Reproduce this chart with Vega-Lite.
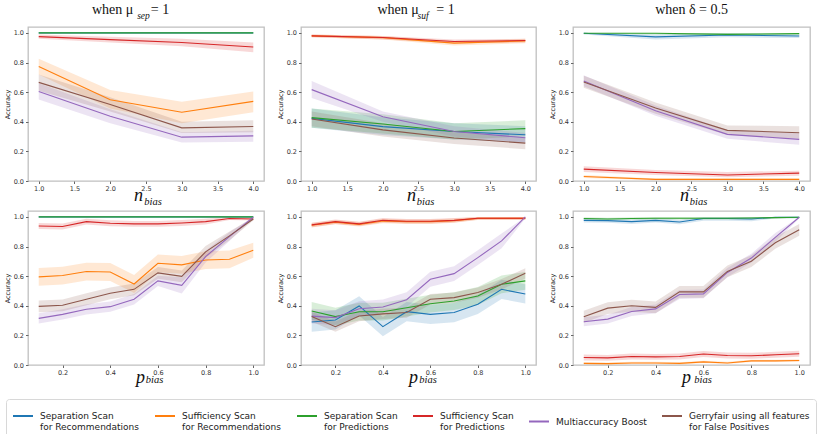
{
"$schema": "https://vega.github.io/schema/vega-lite/v6.json",
"padding": {"left": 3, "top": 2, "right": 3, "bottom": 2},
"background": "white",
"datasets": {"d": [
{"panel":"sep_n","method":"SR","x":1,"acc":1,"lo":0.995,"hi":1},
{"panel":"sep_n","method":"SR","x":2,"acc":1,"lo":0.995,"hi":1},
{"panel":"sep_n","method":"SR","x":3,"acc":1,"lo":0.995,"hi":1},
{"panel":"sep_n","method":"SR","x":4,"acc":1,"lo":0.995,"hi":1},
{"panel":"sep_n","method":"FR","x":1,"acc":0.774,"lo":0.72,"hi":0.825},
{"panel":"sep_n","method":"FR","x":2,"acc":0.549,"lo":0.49,"hi":0.615},
{"panel":"sep_n","method":"FR","x":3,"acc":0.464,"lo":0.39,"hi":0.535},
{"panel":"sep_n","method":"FR","x":4,"acc":0.538,"lo":0.465,"hi":0.605},
{"panel":"sep_n","method":"SP","x":1,"acc":1,"lo":1,"hi":1},
{"panel":"sep_n","method":"SP","x":2,"acc":1,"lo":1,"hi":1},
{"panel":"sep_n","method":"SP","x":3,"acc":1,"lo":1,"hi":1},
{"panel":"sep_n","method":"SP","x":4,"acc":1,"lo":1,"hi":1},
{"panel":"sep_n","method":"FP","x":1,"acc":0.975,"lo":0.96,"hi":0.99},
{"panel":"sep_n","method":"FP","x":2,"acc":0.955,"lo":0.935,"hi":0.975},
{"panel":"sep_n","method":"FP","x":3,"acc":0.935,"lo":0.91,"hi":0.96},
{"panel":"sep_n","method":"FP","x":4,"acc":0.905,"lo":0.87,"hi":0.935},
{"panel":"sep_n","method":"MA","x":1,"acc":0.605,"lo":0.55,"hi":0.66},
{"panel":"sep_n","method":"MA","x":2,"acc":0.437,"lo":0.39,"hi":0.485},
{"panel":"sep_n","method":"MA","x":3,"acc":0.296,"lo":0.26,"hi":0.33},
{"panel":"sep_n","method":"MA","x":4,"acc":0.305,"lo":0.265,"hi":0.34},
{"panel":"sep_n","method":"GF","x":1,"acc":0.666,"lo":0.61,"hi":0.72},
{"panel":"sep_n","method":"GF","x":2,"acc":0.516,"lo":0.47,"hi":0.565},
{"panel":"sep_n","method":"GF","x":3,"acc":0.359,"lo":0.325,"hi":0.4},
{"panel":"sep_n","method":"GF","x":4,"acc":0.368,"lo":0.33,"hi":0.41},
{"panel":"suf_n","method":"SR","x":1,"acc":0.423,"lo":0.36,"hi":0.49},
{"panel":"suf_n","method":"SR","x":2,"acc":0.367,"lo":0.31,"hi":0.43},
{"panel":"suf_n","method":"SR","x":3,"acc":0.334,"lo":0.28,"hi":0.39},
{"panel":"suf_n","method":"SR","x":4,"acc":0.312,"lo":0.26,"hi":0.37},
{"panel":"suf_n","method":"FR","x":1,"acc":0.98,"lo":0.97,"hi":0.99},
{"panel":"suf_n","method":"FR","x":2,"acc":0.968,"lo":0.955,"hi":0.98},
{"panel":"suf_n","method":"FR","x":3,"acc":0.931,"lo":0.915,"hi":0.945},
{"panel":"suf_n","method":"FR","x":4,"acc":0.946,"lo":0.93,"hi":0.96},
{"panel":"suf_n","method":"SP","x":1,"acc":0.428,"lo":0.36,"hi":0.49},
{"panel":"suf_n","method":"SP","x":2,"acc":0.385,"lo":0.32,"hi":0.45},
{"panel":"suf_n","method":"SP","x":3,"acc":0.334,"lo":0.28,"hi":0.39},
{"panel":"suf_n","method":"SP","x":4,"acc":0.354,"lo":0.3,"hi":0.41},
{"panel":"suf_n","method":"FP","x":1,"acc":0.98,"lo":0.97,"hi":0.99},
{"panel":"suf_n","method":"FP","x":2,"acc":0.969,"lo":0.955,"hi":0.98},
{"panel":"suf_n","method":"FP","x":3,"acc":0.942,"lo":0.93,"hi":0.955},
{"panel":"suf_n","method":"FP","x":4,"acc":0.949,"lo":0.935,"hi":0.96},
{"panel":"suf_n","method":"MA","x":1,"acc":0.617,"lo":0.56,"hi":0.675},
{"panel":"suf_n","method":"MA","x":2,"acc":0.434,"lo":0.4,"hi":0.47},
{"panel":"suf_n","method":"MA","x":3,"acc":0.334,"lo":0.3,"hi":0.37},
{"panel":"suf_n","method":"MA","x":4,"acc":0.292,"lo":0.26,"hi":0.325},
{"panel":"suf_n","method":"GF","x":1,"acc":0.419,"lo":0.37,"hi":0.47},
{"panel":"suf_n","method":"GF","x":2,"acc":0.345,"lo":0.3,"hi":0.39},
{"panel":"suf_n","method":"GF","x":3,"acc":0.29,"lo":0.25,"hi":0.33},
{"panel":"suf_n","method":"GF","x":4,"acc":0.256,"lo":0.215,"hi":0.295},
{"panel":"del_n","method":"SR","x":1,"acc":0.998,"lo":0.99,"hi":1},
{"panel":"del_n","method":"SR","x":2,"acc":0.973,"lo":0.955,"hi":0.99},
{"panel":"del_n","method":"SR","x":3,"acc":0.986,"lo":0.97,"hi":1},
{"panel":"del_n","method":"SR","x":4,"acc":0.979,"lo":0.965,"hi":0.99},
{"panel":"del_n","method":"FR","x":1,"acc":0.03,"lo":0.02,"hi":0.04},
{"panel":"del_n","method":"FR","x":2,"acc":0.011,"lo":0.005,"hi":0.017},
{"panel":"del_n","method":"FR","x":3,"acc":0.011,"lo":0.005,"hi":0.017},
{"panel":"del_n","method":"FR","x":4,"acc":0.011,"lo":0.005,"hi":0.017},
{"panel":"del_n","method":"SP","x":1,"acc":0.998,"lo":0.995,"hi":1},
{"panel":"del_n","method":"SP","x":2,"acc":0.998,"lo":0.99,"hi":1},
{"panel":"del_n","method":"SP","x":3,"acc":0.99,"lo":0.98,"hi":1},
{"panel":"del_n","method":"SP","x":4,"acc":0.995,"lo":0.99,"hi":1},
{"panel":"del_n","method":"FP","x":1,"acc":0.08,"lo":0.06,"hi":0.1},
{"panel":"del_n","method":"FP","x":2,"acc":0.057,"lo":0.04,"hi":0.075},
{"panel":"del_n","method":"FP","x":3,"acc":0.041,"lo":0.025,"hi":0.06},
{"panel":"del_n","method":"FP","x":4,"acc":0.053,"lo":0.035,"hi":0.07},
{"panel":"del_n","method":"MA","x":1,"acc":0.676,"lo":0.64,"hi":0.715},
{"panel":"del_n","method":"MA","x":2,"acc":0.475,"lo":0.44,"hi":0.51},
{"panel":"del_n","method":"MA","x":3,"acc":0.315,"lo":0.285,"hi":0.345},
{"panel":"del_n","method":"MA","x":4,"acc":0.281,"lo":0.245,"hi":0.32},
{"panel":"del_n","method":"GF","x":1,"acc":0.669,"lo":0.63,"hi":0.71},
{"panel":"del_n","method":"GF","x":2,"acc":0.493,"lo":0.455,"hi":0.53},
{"panel":"del_n","method":"GF","x":3,"acc":0.342,"lo":0.31,"hi":0.375},
{"panel":"del_n","method":"GF","x":4,"acc":0.326,"lo":0.285,"hi":0.37},
{"panel":"sep_p","method":"SR","x":0.1,"acc":1,"lo":0.995,"hi":1},
{"panel":"sep_p","method":"SR","x":0.2,"acc":1,"lo":0.995,"hi":1},
{"panel":"sep_p","method":"SR","x":0.3,"acc":1,"lo":0.995,"hi":1},
{"panel":"sep_p","method":"SR","x":0.4,"acc":1,"lo":0.995,"hi":1},
{"panel":"sep_p","method":"SR","x":0.5,"acc":1,"lo":0.995,"hi":1},
{"panel":"sep_p","method":"SR","x":0.6,"acc":1,"lo":0.995,"hi":1},
{"panel":"sep_p","method":"SR","x":0.7,"acc":1,"lo":0.995,"hi":1},
{"panel":"sep_p","method":"SR","x":0.8,"acc":1,"lo":0.995,"hi":1},
{"panel":"sep_p","method":"SR","x":0.9,"acc":1,"lo":0.995,"hi":1},
{"panel":"sep_p","method":"SR","x":1.0,"acc":1,"lo":0.995,"hi":1},
{"panel":"sep_p","method":"FR","x":0.1,"acc":0.595,"lo":0.535,"hi":0.655},
{"panel":"sep_p","method":"FR","x":0.2,"acc":0.604,"lo":0.544,"hi":0.664},
{"panel":"sep_p","method":"FR","x":0.3,"acc":0.631,"lo":0.571,"hi":0.691},
{"panel":"sep_p","method":"FR","x":0.4,"acc":0.628,"lo":0.568,"hi":0.688},
{"panel":"sep_p","method":"FR","x":0.5,"acc":0.547,"lo":0.487,"hi":0.607},
{"panel":"sep_p","method":"FR","x":0.6,"acc":0.687,"lo":0.627,"hi":0.747},
{"panel":"sep_p","method":"FR","x":0.7,"acc":0.676,"lo":0.616,"hi":0.736},
{"panel":"sep_p","method":"FR","x":0.8,"acc":0.709,"lo":0.649,"hi":0.769},
{"panel":"sep_p","method":"FR","x":0.9,"acc":0.714,"lo":0.654,"hi":0.774},
{"panel":"sep_p","method":"FR","x":1.0,"acc":0.775,"lo":0.725,"hi":0.825},
{"panel":"sep_p","method":"SP","x":0.1,"acc":1,"lo":1,"hi":1},
{"panel":"sep_p","method":"SP","x":0.2,"acc":1,"lo":1,"hi":1},
{"panel":"sep_p","method":"SP","x":0.3,"acc":1,"lo":1,"hi":1},
{"panel":"sep_p","method":"SP","x":0.4,"acc":1,"lo":1,"hi":1},
{"panel":"sep_p","method":"SP","x":0.5,"acc":1,"lo":1,"hi":1},
{"panel":"sep_p","method":"SP","x":0.6,"acc":1,"lo":1,"hi":1},
{"panel":"sep_p","method":"SP","x":0.7,"acc":1,"lo":1,"hi":1},
{"panel":"sep_p","method":"SP","x":0.8,"acc":1,"lo":1,"hi":1},
{"panel":"sep_p","method":"SP","x":0.9,"acc":1,"lo":1,"hi":1},
{"panel":"sep_p","method":"SP","x":1.0,"acc":1,"lo":1,"hi":1},
{"panel":"sep_p","method":"FP","x":0.1,"acc":0.939,"lo":0.919,"hi":0.959},
{"panel":"sep_p","method":"FP","x":0.2,"acc":0.935,"lo":0.915,"hi":0.955},
{"panel":"sep_p","method":"FP","x":0.3,"acc":0.968,"lo":0.948,"hi":0.988},
{"panel":"sep_p","method":"FP","x":0.4,"acc":0.957,"lo":0.937,"hi":0.977},
{"panel":"sep_p","method":"FP","x":0.5,"acc":0.953,"lo":0.933,"hi":0.973},
{"panel":"sep_p","method":"FP","x":0.6,"acc":0.953,"lo":0.933,"hi":0.973},
{"panel":"sep_p","method":"FP","x":0.7,"acc":0.959,"lo":0.939,"hi":0.979},
{"panel":"sep_p","method":"FP","x":0.8,"acc":0.968,"lo":0.948,"hi":0.988},
{"panel":"sep_p","method":"FP","x":0.9,"acc":0.989,"lo":0.979,"hi":0.999},
{"panel":"sep_p","method":"FP","x":1.0,"acc":0.986,"lo":0.976,"hi":0.996},
{"panel":"sep_p","method":"MA","x":0.1,"acc":0.315,"lo":0.28,"hi":0.35},
{"panel":"sep_p","method":"MA","x":0.2,"acc":0.342,"lo":0.307,"hi":0.377},
{"panel":"sep_p","method":"MA","x":0.3,"acc":0.376,"lo":0.341,"hi":0.411},
{"panel":"sep_p","method":"MA","x":0.4,"acc":0.394,"lo":0.359,"hi":0.429},
{"panel":"sep_p","method":"MA","x":0.5,"acc":0.444,"lo":0.409,"hi":0.479},
{"panel":"sep_p","method":"MA","x":0.6,"acc":0.568,"lo":0.533,"hi":0.603},
{"panel":"sep_p","method":"MA","x":0.7,"acc":0.538,"lo":0.483,"hi":0.593},
{"panel":"sep_p","method":"MA","x":0.8,"acc":0.732,"lo":0.692,"hi":0.772},
{"panel":"sep_p","method":"MA","x":0.9,"acc":0.867,"lo":0.837,"hi":0.897},
{"panel":"sep_p","method":"MA","x":1.0,"acc":0.998,"lo":0.99,"hi":1},
{"panel":"sep_p","method":"GF","x":0.1,"acc":0.396,"lo":0.356,"hi":0.436},
{"panel":"sep_p","method":"GF","x":0.2,"acc":0.403,"lo":0.363,"hi":0.443},
{"panel":"sep_p","method":"GF","x":0.3,"acc":0.444,"lo":0.404,"hi":0.484},
{"panel":"sep_p","method":"GF","x":0.4,"acc":0.484,"lo":0.444,"hi":0.524},
{"panel":"sep_p","method":"GF","x":0.5,"acc":0.511,"lo":0.471,"hi":0.551},
{"panel":"sep_p","method":"GF","x":0.6,"acc":0.622,"lo":0.582,"hi":0.662},
{"panel":"sep_p","method":"GF","x":0.7,"acc":0.599,"lo":0.559,"hi":0.639},
{"panel":"sep_p","method":"GF","x":0.8,"acc":0.764,"lo":0.724,"hi":0.804},
{"panel":"sep_p","method":"GF","x":0.9,"acc":0.872,"lo":0.842,"hi":0.902},
{"panel":"sep_p","method":"GF","x":1.0,"acc":0.986,"lo":0.976,"hi":0.996},
{"panel":"suf_p","method":"SR","x":0.1,"acc":0.29,"lo":0.225,"hi":0.355},
{"panel":"suf_p","method":"SR","x":0.2,"acc":0.304,"lo":0.239,"hi":0.369},
{"panel":"suf_p","method":"SR","x":0.3,"acc":0.399,"lo":0.334,"hi":0.464},
{"panel":"suf_p","method":"SR","x":0.4,"acc":0.259,"lo":0.194,"hi":0.324},
{"panel":"suf_p","method":"SR","x":0.5,"acc":0.36,"lo":0.295,"hi":0.425},
{"panel":"suf_p","method":"SR","x":0.6,"acc":0.342,"lo":0.277,"hi":0.407},
{"panel":"suf_p","method":"SR","x":0.7,"acc":0.354,"lo":0.289,"hi":0.419},
{"panel":"suf_p","method":"SR","x":0.8,"acc":0.41,"lo":0.345,"hi":0.475},
{"panel":"suf_p","method":"SR","x":0.9,"acc":0.511,"lo":0.446,"hi":0.576},
{"panel":"suf_p","method":"SR","x":1.0,"acc":0.48,"lo":0.415,"hi":0.545},
{"panel":"suf_p","method":"FR","x":0.1,"acc":0.944,"lo":0.929,"hi":0.959},
{"panel":"suf_p","method":"FR","x":0.2,"acc":0.965,"lo":0.95,"hi":0.98},
{"panel":"suf_p","method":"FR","x":0.3,"acc":0.95,"lo":0.935,"hi":0.965},
{"panel":"suf_p","method":"FR","x":0.4,"acc":0.972,"lo":0.957,"hi":0.987},
{"panel":"suf_p","method":"FR","x":0.5,"acc":0.968,"lo":0.953,"hi":0.983},
{"panel":"suf_p","method":"FR","x":0.6,"acc":0.968,"lo":0.953,"hi":0.983},
{"panel":"suf_p","method":"FR","x":0.7,"acc":0.975,"lo":0.96,"hi":0.99},
{"panel":"suf_p","method":"FR","x":0.8,"acc":0.99,"lo":0.98,"hi":1},
{"panel":"suf_p","method":"FR","x":0.9,"acc":0.99,"lo":0.98,"hi":1},
{"panel":"suf_p","method":"FR","x":1.0,"acc":0.99,"lo":0.98,"hi":1},
{"panel":"suf_p","method":"SP","x":0.1,"acc":0.365,"lo":0.305,"hi":0.425},
{"panel":"suf_p","method":"SP","x":0.2,"acc":0.327,"lo":0.267,"hi":0.387},
{"panel":"suf_p","method":"SP","x":0.3,"acc":0.36,"lo":0.3,"hi":0.42},
{"panel":"suf_p","method":"SP","x":0.4,"acc":0.36,"lo":0.3,"hi":0.42},
{"panel":"suf_p","method":"SP","x":0.5,"acc":0.387,"lo":0.327,"hi":0.447},
{"panel":"suf_p","method":"SP","x":0.6,"acc":0.414,"lo":0.354,"hi":0.474},
{"panel":"suf_p","method":"SP","x":0.7,"acc":0.432,"lo":0.372,"hi":0.492},
{"panel":"suf_p","method":"SP","x":0.8,"acc":0.466,"lo":0.406,"hi":0.526},
{"panel":"suf_p","method":"SP","x":0.9,"acc":0.545,"lo":0.485,"hi":0.605},
{"panel":"suf_p","method":"SP","x":1.0,"acc":0.568,"lo":0.508,"hi":0.628},
{"panel":"suf_p","method":"FP","x":0.1,"acc":0.946,"lo":0.931,"hi":0.961},
{"panel":"suf_p","method":"FP","x":0.2,"acc":0.968,"lo":0.953,"hi":0.983},
{"panel":"suf_p","method":"FP","x":0.3,"acc":0.953,"lo":0.938,"hi":0.968},
{"panel":"suf_p","method":"FP","x":0.4,"acc":0.977,"lo":0.962,"hi":0.992},
{"panel":"suf_p","method":"FP","x":0.5,"acc":0.971,"lo":0.956,"hi":0.986},
{"panel":"suf_p","method":"FP","x":0.6,"acc":0.971,"lo":0.956,"hi":0.986},
{"panel":"suf_p","method":"FP","x":0.7,"acc":0.977,"lo":0.962,"hi":0.992},
{"panel":"suf_p","method":"FP","x":0.8,"acc":0.991,"lo":0.981,"hi":1},
{"panel":"suf_p","method":"FP","x":0.9,"acc":0.991,"lo":0.981,"hi":1},
{"panel":"suf_p","method":"FP","x":1.0,"acc":0.991,"lo":0.981,"hi":1},
{"panel":"suf_p","method":"MA","x":0.1,"acc":0.33,"lo":0.28,"hi":0.38},
{"panel":"suf_p","method":"MA","x":0.2,"acc":0.32,"lo":0.27,"hi":0.37},
{"panel":"suf_p","method":"MA","x":0.3,"acc":0.38,"lo":0.33,"hi":0.43},
{"panel":"suf_p","method":"MA","x":0.4,"acc":0.392,"lo":0.342,"hi":0.442},
{"panel":"suf_p","method":"MA","x":0.5,"acc":0.441,"lo":0.391,"hi":0.491},
{"panel":"suf_p","method":"MA","x":0.6,"acc":0.579,"lo":0.529,"hi":0.629},
{"panel":"suf_p","method":"MA","x":0.7,"acc":0.617,"lo":0.567,"hi":0.667},
{"panel":"suf_p","method":"MA","x":0.8,"acc":0.725,"lo":0.675,"hi":0.775},
{"panel":"suf_p","method":"MA","x":0.9,"acc":0.838,"lo":0.788,"hi":0.888},
{"panel":"suf_p","method":"MA","x":1.0,"acc":1,"lo":0.99,"hi":1},
{"panel":"suf_p","method":"GF","x":0.1,"acc":0.327,"lo":0.292,"hi":0.362},
{"panel":"suf_p","method":"GF","x":0.2,"acc":0.259,"lo":0.224,"hi":0.294},
{"panel":"suf_p","method":"GF","x":0.3,"acc":0.331,"lo":0.296,"hi":0.366},
{"panel":"suf_p","method":"GF","x":0.4,"acc":0.345,"lo":0.31,"hi":0.38},
{"panel":"suf_p","method":"GF","x":0.5,"acc":0.354,"lo":0.319,"hi":0.389},
{"panel":"suf_p","method":"GF","x":0.6,"acc":0.444,"lo":0.409,"hi":0.479},
{"panel":"suf_p","method":"GF","x":0.7,"acc":0.455,"lo":0.42,"hi":0.49},
{"panel":"suf_p","method":"GF","x":0.8,"acc":0.489,"lo":0.454,"hi":0.524},
{"panel":"suf_p","method":"GF","x":0.9,"acc":0.545,"lo":0.51,"hi":0.58},
{"panel":"suf_p","method":"GF","x":1.0,"acc":0.619,"lo":0.584,"hi":0.654},
{"panel":"del_p","method":"SR","x":0.1,"acc":0.977,"lo":0.962,"hi":0.992},
{"panel":"del_p","method":"SR","x":0.2,"acc":0.975,"lo":0.96,"hi":0.99},
{"panel":"del_p","method":"SR","x":0.3,"acc":0.968,"lo":0.953,"hi":0.983},
{"panel":"del_p","method":"SR","x":0.4,"acc":0.977,"lo":0.962,"hi":0.992},
{"panel":"del_p","method":"SR","x":0.5,"acc":0.966,"lo":0.951,"hi":0.981},
{"panel":"del_p","method":"SR","x":0.6,"acc":0.989,"lo":0.974,"hi":1},
{"panel":"del_p","method":"SR","x":0.7,"acc":0.989,"lo":0.974,"hi":1},
{"panel":"del_p","method":"SR","x":0.8,"acc":0.986,"lo":0.971,"hi":1},
{"panel":"del_p","method":"SR","x":0.9,"acc":0.998,"lo":0.99,"hi":1},
{"panel":"del_p","method":"SR","x":1.0,"acc":0.998,"lo":0.99,"hi":1},
{"panel":"del_p","method":"FR","x":0.1,"acc":0.011,"lo":0.003,"hi":0.019},
{"panel":"del_p","method":"FR","x":0.2,"acc":0.009,"lo":0.001,"hi":0.017},
{"panel":"del_p","method":"FR","x":0.3,"acc":0.014,"lo":0.006,"hi":0.022},
{"panel":"del_p","method":"FR","x":0.4,"acc":0.014,"lo":0.006,"hi":0.022},
{"panel":"del_p","method":"FR","x":0.5,"acc":0.011,"lo":0.003,"hi":0.019},
{"panel":"del_p","method":"FR","x":0.6,"acc":0.021,"lo":0.013,"hi":0.029},
{"panel":"del_p","method":"FR","x":0.7,"acc":0.014,"lo":0.006,"hi":0.022},
{"panel":"del_p","method":"FR","x":0.8,"acc":0.028,"lo":0.02,"hi":0.036},
{"panel":"del_p","method":"FR","x":0.9,"acc":0.028,"lo":0.02,"hi":0.036},
{"panel":"del_p","method":"FR","x":1.0,"acc":0.03,"lo":0.022,"hi":0.038},
{"panel":"del_p","method":"SP","x":0.1,"acc":0.989,"lo":0.981,"hi":0.997},
{"panel":"del_p","method":"SP","x":0.2,"acc":0.986,"lo":0.978,"hi":0.994},
{"panel":"del_p","method":"SP","x":0.3,"acc":0.989,"lo":0.981,"hi":0.997},
{"panel":"del_p","method":"SP","x":0.4,"acc":0.991,"lo":0.983,"hi":0.999},
{"panel":"del_p","method":"SP","x":0.5,"acc":0.991,"lo":0.983,"hi":0.999},
{"panel":"del_p","method":"SP","x":0.6,"acc":0.991,"lo":0.983,"hi":0.999},
{"panel":"del_p","method":"SP","x":0.7,"acc":0.991,"lo":0.983,"hi":0.999},
{"panel":"del_p","method":"SP","x":0.8,"acc":0.993,"lo":0.985,"hi":1},
{"panel":"del_p","method":"SP","x":0.9,"acc":0.995,"lo":0.99,"hi":1},
{"panel":"del_p","method":"SP","x":1.0,"acc":0.998,"lo":0.995,"hi":1},
{"panel":"del_p","method":"FP","x":0.1,"acc":0.051,"lo":0.031,"hi":0.071},
{"panel":"del_p","method":"FP","x":0.2,"acc":0.048,"lo":0.028,"hi":0.068},
{"panel":"del_p","method":"FP","x":0.3,"acc":0.057,"lo":0.037,"hi":0.077},
{"panel":"del_p","method":"FP","x":0.4,"acc":0.055,"lo":0.035,"hi":0.075},
{"panel":"del_p","method":"FP","x":0.5,"acc":0.057,"lo":0.037,"hi":0.077},
{"panel":"del_p","method":"FP","x":0.6,"acc":0.074,"lo":0.054,"hi":0.094},
{"panel":"del_p","method":"FP","x":0.7,"acc":0.064,"lo":0.044,"hi":0.084},
{"panel":"del_p","method":"FP","x":0.8,"acc":0.062,"lo":0.042,"hi":0.082},
{"panel":"del_p","method":"FP","x":0.9,"acc":0.069,"lo":0.049,"hi":0.089},
{"panel":"del_p","method":"FP","x":1.0,"acc":0.076,"lo":0.056,"hi":0.096},
{"panel":"del_p","method":"MA","x":0.1,"acc":0.292,"lo":0.262,"hi":0.322},
{"panel":"del_p","method":"MA","x":0.2,"acc":0.31,"lo":0.28,"hi":0.34},
{"panel":"del_p","method":"MA","x":0.3,"acc":0.361,"lo":0.331,"hi":0.391},
{"panel":"del_p","method":"MA","x":0.4,"acc":0.379,"lo":0.349,"hi":0.409},
{"panel":"del_p","method":"MA","x":0.5,"acc":0.476,"lo":0.446,"hi":0.506},
{"panel":"del_p","method":"MA","x":0.6,"acc":0.48,"lo":0.45,"hi":0.51},
{"panel":"del_p","method":"MA","x":0.7,"acc":0.625,"lo":0.595,"hi":0.655},
{"panel":"del_p","method":"MA","x":0.8,"acc":0.722,"lo":0.692,"hi":0.752},
{"panel":"del_p","method":"MA","x":0.9,"acc":0.862,"lo":0.832,"hi":0.892},
{"panel":"del_p","method":"MA","x":1.0,"acc":0.998,"lo":0.99,"hi":1},
{"panel":"del_p","method":"GF","x":0.1,"acc":0.326,"lo":0.286,"hi":0.366},
{"panel":"del_p","method":"GF","x":0.2,"acc":0.384,"lo":0.344,"hi":0.424},
{"panel":"del_p","method":"GF","x":0.3,"acc":0.4,"lo":0.36,"hi":0.44},
{"panel":"del_p","method":"GF","x":0.4,"acc":0.389,"lo":0.349,"hi":0.429},
{"panel":"del_p","method":"GF","x":0.5,"acc":0.494,"lo":0.454,"hi":0.534},
{"panel":"del_p","method":"GF","x":0.6,"acc":0.494,"lo":0.454,"hi":0.534},
{"panel":"del_p","method":"GF","x":0.7,"acc":0.632,"lo":0.592,"hi":0.672},
{"panel":"del_p","method":"GF","x":0.8,"acc":0.701,"lo":0.661,"hi":0.741},
{"panel":"del_p","method":"GF","x":0.9,"acc":0.825,"lo":0.785,"hi":0.865},
{"panel":"del_p","method":"GF","x":1.0,"acc":0.913,"lo":0.873,"hi":0.953}
]},
"data": {"name": "d"},
"config": {
  "view": {"stroke": "#c0c0c0", "strokeWidth": 1.3},
  "axis": {"grid": false, "domain": false, "labelFont": "DejaVu Sans", "labelFontSize": 6.5, "labelColor": "#333333", "tickColor": "#666666", "tickSize": 2.5, "labelPadding": 2},
  "axisY": {"tickCount": 5, "titleFont": "DejaVu Sans", "titleFontSize": 6.5, "titleFontWeight": "normal", "titleColor": "#222222", "titlePadding": 3},
  "axisX": {"titleFont": "Liberation Serif", "titleFontStyle": "italic", "titleFontSize": 18, "titleFontWeight": "normal", "titleColor": "#111111", "titleBaseline": "alphabetic"},
  "title": {"font": "Liberation Serif", "fontWeight": "normal", "color": "#111111"},
  "legend": {"symbolType": "stroke", "symbolSize": 400, "symbolStrokeWidth": 2, "symbolOpacity": 1, "labelFont": "DejaVu Sans", "labelFontSize": 9, "labelColor": "#222222", "labelOffset": 6, "columnPadding": 11, "strokeColor": "#d8d8d8", "cornerRadius": 3, "padding": 6, "fillColor": "white", "labelLimit": 300}
},
"spacing": 11,
"hconcat": [
 {"title": {"text": "when μ\u00a0\u00a0\u00a0\u00a0\u00a0= 1", "font": "Liberation Serif", "fontWeight": "normal", "fontSize": 14, "baseline": "alphabetic", "anchor": "middle", "offset": -18, "dx": -3.5},
  "vconcat": [{
   "bounds": "flush", "spacing": 30,
   "title": {"text": "bias", "orient": "bottom", "font": "Liberation Serif", "fontWeight": "normal", "fontSize": 10.5, "fontStyle": "italic", "baseline": "alphabetic", "anchor": "middle", "frame": "bounds", "offset": -4, "dx": 20.5},
   "vconcat": [
    {"width": 236, "height": 154,
     "title": {"text": "sep", "font": "Liberation Serif", "fontWeight": "normal", "fontSize": 9.5, "fontStyle": "italic", "baseline": "alphabetic", "frame": "group", "offset": -1, "dx": -2.5},
     "transform": [{"filter": "datum.panel == 'sep_n'"}],
     "encoding": {
      "x": {"field": "x", "type": "quantitative", "scale": {"domain": [0.85, 4.15], "nice": false, "zero": false}, "axis": {"values": [1, 1.5, 2, 2.5, 3, 3.5, 4], "format": ".1f", "title": "n", "titleX": 110, "titleY": 19}},
      "y": {"field": "acc", "type": "quantitative", "title": "Accuracy", "scale": {"domain": [0, 1.04], "nice": false}}
     },
     "layer": [
      {"mark": {"type": "area", "fillOpacity": 0.18}, "encoding": {"y": {"field": "lo", "type": "quantitative", "title": "Accuracy", "scale": {"domain": [0, 1.04], "nice": false}}, "y2": {"field": "hi"}, "fill": {"field": "method", "type": "nominal", "scale": {"domain": ["SR","FR","SP","FP","MA","GF"], "range": ["#1f77b4","#ff7f0e","#2ca02c","#d62728","#9467bd","#8c564b"]}}}},
      {"mark": {"type": "line", "strokeWidth": 1.1}, "encoding": {"color": {"field": "method", "type": "nominal", "scale": {"domain": ["SR","FR","SP","FP","MA","GF"], "range": ["#1f77b4","#ff7f0e","#2ca02c","#d62728","#9467bd","#8c564b"]}, "legend": {"title": null, "orient": "none", "legendX": -22, "legendY": 372, "direction": "horizontal", "columns": 6, "labelExpr": "datum.value == 'SR' ? ['Separation Scan', ' for Recommendations'] : datum.value == 'FR' ? ['Sufficiency Scan', ' for Recommendations'] : datum.value == 'SP' ? ['Separation Scan', ' for Predictions'] : datum.value == 'FP' ? ['Sufficiency Scan', ' for Predictions'] : datum.value == 'MA' ? 'Multiaccuracy Boost' : ['Gerryfair using all features', ' for False Positives']"}}}}
     ]},
    {"width": 236, "height": 154,
     "title": {"text": "bias", "font": "Liberation Serif", "fontWeight": "normal", "fontSize": 10.5, "fontStyle": "italic", "baseline": "alphabetic", "frame": "group", "offset": -4, "dx": 7},
     "transform": [{"filter": "datum.panel == 'sep_p'"}],
     "encoding": {
      "x": {"field": "x", "type": "quantitative", "scale": {"domain": [0.055, 1.045], "nice": false, "zero": false}, "axis": {"values": [0.2, 0.4, 0.6, 0.8, 1.0], "format": ".1f", "title": "p", "titleX": 112, "titleY": 17}},
      "y": {"field": "acc", "type": "quantitative", "title": "Accuracy", "scale": {"domain": [0, 1.04], "nice": false}}
     },
     "layer": [
      {"mark": {"type": "area", "fillOpacity": 0.18}, "encoding": {"y": {"field": "lo", "type": "quantitative", "title": "Accuracy", "scale": {"domain": [0, 1.04], "nice": false}}, "y2": {"field": "hi"}, "fill": {"field": "method", "type": "nominal", "scale": {"domain": ["SR","FR","SP","FP","MA","GF"], "range": ["#1f77b4","#ff7f0e","#2ca02c","#d62728","#9467bd","#8c564b"]}}}},
      {"mark": {"type": "line", "strokeWidth": 1.1}, "encoding": {"color": {"field": "method", "type": "nominal", "scale": {"domain": ["SR","FR","SP","FP","MA","GF"], "range": ["#1f77b4","#ff7f0e","#2ca02c","#d62728","#9467bd","#8c564b"]}}}}
     ]}
   ]
  }]
 },
 {"title": {"text": "when μ\u00a0\u00a0\u00a0\u00a0\u00a0= 1", "font": "Liberation Serif", "fontWeight": "normal", "fontSize": 14, "baseline": "alphabetic", "anchor": "middle", "offset": -18, "dx": 9.5},
  "vconcat": [{
   "bounds": "flush", "spacing": 30,
   "title": {"text": "bias", "orient": "bottom", "font": "Liberation Serif", "fontWeight": "normal", "fontSize": 10.5, "fontStyle": "italic", "baseline": "alphabetic", "anchor": "middle", "frame": "bounds", "offset": -4, "dx": 21.5},
   "vconcat": [
    {"width": 235, "height": 154,
     "title": {"text": "suf", "font": "Liberation Serif", "fontWeight": "normal", "fontSize": 9.5, "fontStyle": "italic", "baseline": "alphabetic", "frame": "group", "offset": -1, "dx": 4.5},
     "transform": [{"filter": "datum.panel == 'suf_n'"}],
     "encoding": {
      "x": {"field": "x", "type": "quantitative", "scale": {"domain": [0.85, 4.15], "nice": false, "zero": false}, "axis": {"values": [1, 1.5, 2, 2.5, 3, 3.5, 4], "format": ".1f", "title": "n", "titleX": 110, "titleY": 19}},
      "y": {"field": "acc", "type": "quantitative", "title": "Accuracy", "scale": {"domain": [0, 1.04], "nice": false}}
     },
     "layer": [
      {"mark": {"type": "area", "fillOpacity": 0.18}, "encoding": {"y": {"field": "lo", "type": "quantitative", "title": "Accuracy", "scale": {"domain": [0, 1.04], "nice": false}}, "y2": {"field": "hi"}, "fill": {"field": "method", "type": "nominal", "scale": {"domain": ["SR","FR","SP","FP","MA","GF"], "range": ["#1f77b4","#ff7f0e","#2ca02c","#d62728","#9467bd","#8c564b"]}}}},
      {"mark": {"type": "line", "strokeWidth": 1.1}, "encoding": {"color": {"field": "method", "type": "nominal", "scale": {"domain": ["SR","FR","SP","FP","MA","GF"], "range": ["#1f77b4","#ff7f0e","#2ca02c","#d62728","#9467bd","#8c564b"]}}}}
     ]},
    {"width": 235, "height": 154,
     "title": {"text": "bias", "font": "Liberation Serif", "fontWeight": "normal", "fontSize": 10.5, "fontStyle": "italic", "baseline": "alphabetic", "frame": "group", "offset": -4, "dx": 7},
     "transform": [{"filter": "datum.panel == 'suf_p'"}],
     "encoding": {
      "x": {"field": "x", "type": "quantitative", "scale": {"domain": [0.055, 1.045], "nice": false, "zero": false}, "axis": {"values": [0.2, 0.4, 0.6, 0.8, 1.0], "format": ".1f", "title": "p", "titleX": 112, "titleY": 17}},
      "y": {"field": "acc", "type": "quantitative", "title": "Accuracy", "scale": {"domain": [0, 1.04], "nice": false}}
     },
     "layer": [
      {"mark": {"type": "area", "fillOpacity": 0.18}, "encoding": {"y": {"field": "lo", "type": "quantitative", "title": "Accuracy", "scale": {"domain": [0, 1.04], "nice": false}}, "y2": {"field": "hi"}, "fill": {"field": "method", "type": "nominal", "scale": {"domain": ["SR","FR","SP","FP","MA","GF"], "range": ["#1f77b4","#ff7f0e","#2ca02c","#d62728","#9467bd","#8c564b"]}}}},
      {"mark": {"type": "line", "strokeWidth": 1.1}, "encoding": {"color": {"field": "method", "type": "nominal", "scale": {"domain": ["SR","FR","SP","FP","MA","GF"], "range": ["#1f77b4","#ff7f0e","#2ca02c","#d62728","#9467bd","#8c564b"]}}}}
     ]}
   ]
  }]
 },
 {"title": {"text": "when δ = 0.5", "font": "Liberation Serif", "fontWeight": "normal", "fontSize": 14, "baseline": "alphabetic", "anchor": "middle", "offset": -18, "dx": 12},
  "vconcat": [{
   "bounds": "flush", "spacing": 30,
   "title": {"text": "bias", "orient": "bottom", "font": "Liberation Serif", "fontWeight": "normal", "fontSize": 10.5, "fontStyle": "italic", "baseline": "alphabetic", "anchor": "middle", "frame": "bounds", "offset": -4, "dx": 23.5},
   "vconcat": [
    {"width": 237, "height": 154,
     "title": {"text": "\u00a0", "font": "Liberation Serif", "fontWeight": "normal", "fontSize": 9.5, "fontStyle": "italic", "baseline": "alphabetic", "frame": "group", "offset": -1},
     "transform": [{"filter": "datum.panel == 'del_n'"}],
     "encoding": {
      "x": {"field": "x", "type": "quantitative", "scale": {"domain": [0.85, 4.15], "nice": false, "zero": false}, "axis": {"values": [1, 1.5, 2, 2.5, 3, 3.5, 4], "format": ".1f", "title": "n", "titleX": 111, "titleY": 19}},
      "y": {"field": "acc", "type": "quantitative", "title": "Accuracy", "scale": {"domain": [0, 1.04], "nice": false}}
     },
     "layer": [
      {"mark": {"type": "area", "fillOpacity": 0.18}, "encoding": {"y": {"field": "lo", "type": "quantitative", "title": "Accuracy", "scale": {"domain": [0, 1.04], "nice": false}}, "y2": {"field": "hi"}, "fill": {"field": "method", "type": "nominal", "scale": {"domain": ["SR","FR","SP","FP","MA","GF"], "range": ["#1f77b4","#ff7f0e","#2ca02c","#d62728","#9467bd","#8c564b"]}}}},
      {"mark": {"type": "line", "strokeWidth": 1.1}, "encoding": {"color": {"field": "method", "type": "nominal", "scale": {"domain": ["SR","FR","SP","FP","MA","GF"], "range": ["#1f77b4","#ff7f0e","#2ca02c","#d62728","#9467bd","#8c564b"]}}}}
     ]},
    {"width": 237, "height": 154,
     "title": {"text": "bias", "font": "Liberation Serif", "fontWeight": "normal", "fontSize": 10.5, "fontStyle": "italic", "baseline": "alphabetic", "frame": "group", "offset": -4, "dx": 7},
     "transform": [{"filter": "datum.panel == 'del_p'"}],
     "encoding": {
      "x": {"field": "x", "type": "quantitative", "scale": {"domain": [0.055, 1.045], "nice": false, "zero": false}, "axis": {"values": [0.2, 0.4, 0.6, 0.8, 1.0], "format": ".1f", "title": "p", "titleX": 113, "titleY": 17}},
      "y": {"field": "acc", "type": "quantitative", "title": "Accuracy", "scale": {"domain": [0, 1.04], "nice": false}}
     },
     "layer": [
      {"mark": {"type": "area", "fillOpacity": 0.18}, "encoding": {"y": {"field": "lo", "type": "quantitative", "title": "Accuracy", "scale": {"domain": [0, 1.04], "nice": false}}, "y2": {"field": "hi"}, "fill": {"field": "method", "type": "nominal", "scale": {"domain": ["SR","FR","SP","FP","MA","GF"], "range": ["#1f77b4","#ff7f0e","#2ca02c","#d62728","#9467bd","#8c564b"]}}}},
      {"mark": {"type": "line", "strokeWidth": 1.1}, "encoding": {"color": {"field": "method", "type": "nominal", "scale": {"domain": ["SR","FR","SP","FP","MA","GF"], "range": ["#1f77b4","#ff7f0e","#2ca02c","#d62728","#9467bd","#8c564b"]}}}}
     ]}
   ]
  }]
 }
]
}
